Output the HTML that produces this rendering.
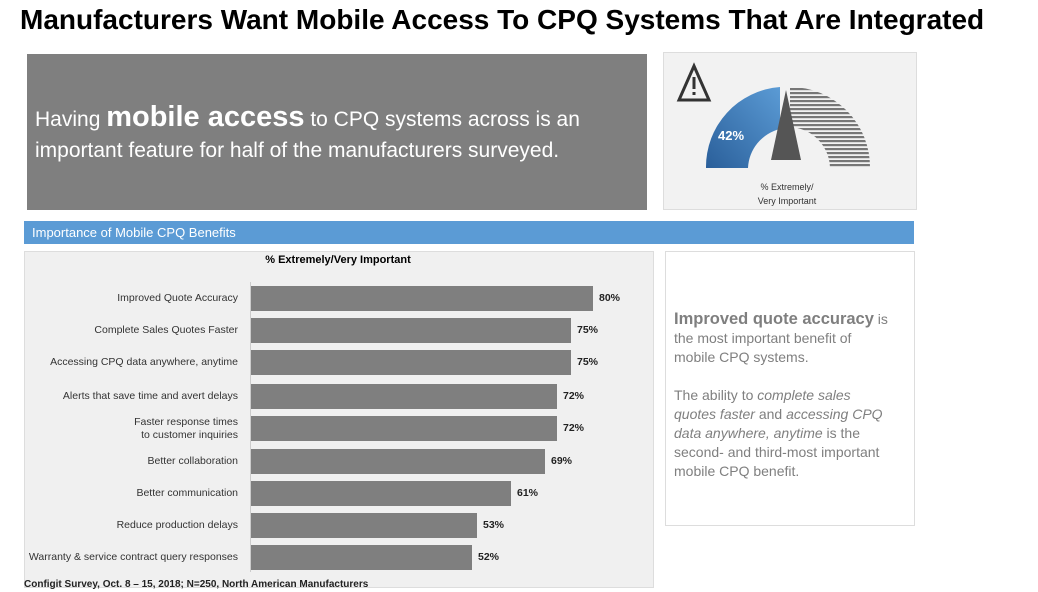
<!DOCTYPE html>
<html><head><style>
body{margin:0;width:1038px;height:592px;background:#fff;position:relative;font-family:"Liberation Sans",sans-serif;overflow:hidden}
.a{position:absolute}
.lbl{position:absolute;right:800px;font-size:10.5px;color:#333;text-align:right;line-height:13px}
.bar{position:absolute;left:251px;height:25px;background:#7f7f7f}
.v{position:absolute;font-size:10.5px;font-weight:bold;color:#222}
</style></head><body>
<div class="a" style="left:20px;top:4px;font-size:28px;font-weight:bold;color:#000;white-space:nowrap">Manufacturers Want Mobile Access To CPQ Systems That Are Integrated</div>
<div class="a" style="left:27px;top:54px;width:620px;height:156px;background:#7f7f7f"></div>
<div class="a" style="left:35px;top:102px;width:610px;color:#fff;font-size:21px;line-height:31px">Having <b style="font-size:29px">mobile access</b> to CPQ systems across is an important feature for half of the manufacturers surveyed.</div>
<div class="a" style="left:663px;top:52px;width:252px;height:156px;background:#f2f2f2;border:1px solid #ddd"></div>
<svg class="a" style="left:663px;top:52px" width="254" height="158">
<polygon points="16,48 31,14 46,48" fill="none" stroke="#333" stroke-width="3"/>
<rect x="29.5" y="25" width="3" height="12" fill="#333"/><rect x="29.5" y="40" width="3" height="3" fill="#333"/>
<defs><linearGradient id="g" x1="0" y1="1" x2="1" y2="0"><stop offset="0" stop-color="#2a5f9a"/><stop offset="1" stop-color="#5b9bd5"/></linearGradient>
<pattern id="h" width="4" height="4" patternUnits="userSpaceOnUse"><rect width="4" height="2.2" fill="#777"/></pattern></defs>
<path d="M43,116 A80,80 0 0 1 117,35 L117,77 A42,42 0 0 0 85,116 Z" fill="url(#g)"/>
<path d="M127,35 A80,80 0 0 1 207,116 L167,116 A42,42 0 0 0 127,75 Z" fill="url(#h)"/>
<polygon points="108,108 123,38 138,108" fill="#555"/>
<text x="68" y="88" fill="#fff" font-size="13" font-weight="bold" text-anchor="middle">42%</text>
<text x="124" y="138" fill="#333" font-size="9" text-anchor="middle">% Extremely/</text>
<text x="124" y="152" fill="#333" font-size="9" text-anchor="middle">Very Important</text>
</svg>
<div class="a" style="left:24px;top:221px;width:890px;height:23px;background:#5b9bd5;color:#fff;font-size:13px;line-height:23px;padding-left:8px;box-sizing:border-box">Importance of Mobile CPQ Benefits</div>
<div class="a" style="left:24px;top:251px;width:628px;height:335px;background:#f0f0f0;border:1px solid #ddd"></div>
<div class="a" style="left:24px;top:254px;width:628px;text-align:center;font-size:11px;font-weight:bold">% Extremely/Very Important</div>
<div class="a" style="left:250px;top:282px;width:1px;height:290px;background:#ccc"></div>
<div class="lbl" style="top:292px">Improved Quote Accuracy</div><div class="bar" style="top:286px;width:342px"></div><div class="v" style="left:599px;top:292px">80%</div>
<div class="lbl" style="top:324px">Complete Sales Quotes Faster</div><div class="bar" style="top:318px;width:320px"></div><div class="v" style="left:577px;top:324px">75%</div>
<div class="lbl" style="top:356px">Accessing CPQ data anywhere, anytime</div><div class="bar" style="top:350px;width:320px"></div><div class="v" style="left:577px;top:356px">75%</div>
<div class="lbl" style="top:390px">Alerts that save time and avert delays</div><div class="bar" style="top:384px;width:306px"></div><div class="v" style="left:563px;top:390px">72%</div>
<div class="lbl" style="top:416px">Faster response times<br>to customer inquiries</div><div class="bar" style="top:416px;width:306px"></div><div class="v" style="left:563px;top:422px">72%</div>
<div class="lbl" style="top:455px">Better collaboration</div><div class="bar" style="top:449px;width:294px"></div><div class="v" style="left:551px;top:455px">69%</div>
<div class="lbl" style="top:487px">Better communication</div><div class="bar" style="top:481px;width:260px"></div><div class="v" style="left:517px;top:487px">61%</div>
<div class="lbl" style="top:519px">Reduce production delays</div><div class="bar" style="top:513px;width:226px"></div><div class="v" style="left:483px;top:519px">53%</div>
<div class="lbl" style="top:551px">Warranty &amp; service contract query responses</div><div class="bar" style="top:545px;width:221px"></div><div class="v" style="left:478px;top:551px">52%</div>
<div class="a" style="left:24px;top:579px;font-size:10px;font-weight:bold;color:#222">Configit Survey, Oct. 8 – 15, 2018; N=250, North American Manufacturers</div>
<div class="a" style="left:665px;top:251px;width:248px;height:273px;border:1px solid #ddd;background:#fff"></div>
<div class="a" style="left:674px;top:310px;width:218px;font-size:14px;line-height:19px;color:#7f7f7f"><b style="font-size:16.5px">Improved quote accuracy</b> is the most important benefit of mobile CPQ systems.<br><br>The ability to <i>complete sales quotes faster</i> and <i>accessing CPQ data anywhere, anytime</i> is the second- and third-most important mobile CPQ benefit.</div>
</body></html>
